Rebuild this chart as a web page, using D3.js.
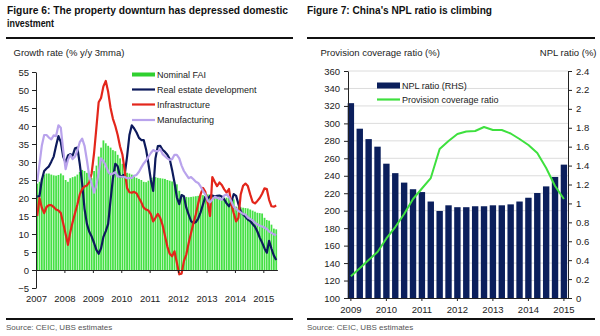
<!DOCTYPE html>
<html>
<head>
<meta charset="utf-8">
<script src="https://cdn.jsdelivr.net/npm/d3@7"></script>
<style>
    body { margin: 0; background: #fff; }
    svg { font-family: "Liberation Sans", Arial, sans-serif; }
    .title { font-weight: bold; font-size: 11.5px; fill: #111; }
    .axis-title { font-size: 9.5px; fill: #222; }
    .source { font-size: 8px; fill: #555; }
    .legend { font-size: 9px; fill: #222; }
    .tick text { font-size: 9.5px; fill: #222; }
    .domain, .tick line { stroke: #222; }
    .rule { stroke: #111; stroke-width: 2; }
    .grid { stroke: #dcdcdc; stroke-width: 1; }
</style>
</head>
<body>
<div id="chart"></div>
<script>
// Figure 6: monthly growth, Jan 2007 - Jun 2015 (% y/y 3mma)
const faiStart = new Date(2007, 0, 1);

const nominalFai = [
    24, 24.5, 25.5, 26.5, 26.8, 26.8, 26.5, 26.3, 26.2, 26.4, 26.8, 26.3,
    25, 24.5, 25.5, 25.8, 26, 26.5, 27.2, 27.8, 27.5, 27, 26, 25.5,
    27.5, 29, 31.5, 34, 36, 35.2, 34.5, 34, 33.3, 33, 32, 31,
    29.5, 27.8, 27, 26.8, 26.5, 26, 25.6, 25.3, 25, 24.5, 24.4, 24.8,
    25.5, 25.7, 25.8, 25.6, 25.5, 25.4, 25.3, 25, 24.8, 24.6, 24.3, 23.8,
    22, 21, 20.5, 20.3, 20.2, 20.3, 20.4, 20.5, 20.6, 20.7, 20.8, 20.6,
    21, 21, 20.8, 20.6, 20.3, 20.2, 20.2, 20.1, 20.1, 20, 19.8, 19.6,
    17.6, 17.6, 17.4, 17.3, 17.2, 17.1, 16.8, 16.5, 16.2, 15.9, 15.8, 15.7,
    14.5, 13.9, 13.7, 12.6, 11.5, 11.3
];

const realEstate = [
    20.4, 20.5, 25, 27.5, 28.2, 28.8, 30.1, 31.5, 34.5, 37.2, 35.5, 31.5,
    29.8, 31.8, 32.2, 31.8, 33.8, 34, 29.5, 24, 17, 12.8, 10.6, 9.3,
    7.5, 5.6, 4.5, 6, 9.2, 10.8, 12.8, 19.5, 25.5, 29.5, 28.8, 25.9,
    26.2, 26.6, 31.5, 37.5, 40.2, 39.3, 38.2, 36.7, 36.1, 36.1, 33.5, 29.5,
    25, 22, 31, 34.4, 34.5, 33.4, 32.8, 32, 30.8, 27.8, 24.3, 20.2,
    18.3, 20.8, 20.5, 17.3, 15.4, 13.6, 13, 13.3, 14.3, 16, 18.2, 20.3,
    19.8, 20.6, 20.7, 20.4, 20.6, 20.7, 20.4, 19.6, 18.5, 17.7, 18.8, 21.1,
    20.6, 18.3, 16.3, 15.4, 14.8, 14, 13.6, 12.8, 12, 10.7, 9, 7.6,
    6, 4.8, 8.1, 5.9, 4, 2.8
];

const infrastructure = [
    15, 20, 17.3, 15.8, 17.5, 18, 18, 17.5, 16.8, 16.5, 15.8, 13,
    10, 7, 10.5, 13.3, 15.8, 18.2, 21, 22.5, 23.2, 23.5, 24.4, 26.9,
    32.5, 39.5, 46.6, 47.8, 51, 52.5, 49.5, 45, 42, 40, 37.5, 34.3,
    32, 27.5, 22.8, 21.6, 21.5, 21.7, 21.3, 20, 18.8, 17.3, 16.8, 16.5,
    15.5, 13.5, 14.5, 15.6, 14.5, 12.5, 9.5, 6.5, 4.5, 3.8, 5.2, 2,
    -1.2, -1, 2.5, 4.3, 7.5, 10.3, 13, 15.5, 18.5, 21, 22.8, 21.7,
    18.5, 15, 25.8, 24.5, 23.3, 24.3, 23.6, 22.4, 21.5, 22.5, 18.3, 15.8,
    13.5, 14.5, 21, 23.4, 24, 23.3, 21, 18.9, 18.5, 19.2, 20, 21.2,
    22.7, 22.5, 19.5, 17.7, 17.6, 17.9
];

const manufacturing = [
    24.5, 29.5, 34.5, 37.5, 37.5, 36.8, 36.3, 37.4, 37.2, 40.2, 39.5, 33.3,
    28, 30.6, 32, 30.8, 31.5, 33.2, 35.5, 36.5, 34.5, 30.5, 26, 24,
    21.5, 23.5, 27, 31, 30.3, 29, 27.3, 26.5, 26.8, 27.2, 26, 25.9,
    25.9, 25.8, 25.5, 25.5, 25.6, 26.2, 26.4, 27.3, 28.5, 29.6, 30.4, 31.5,
    32.5, 33.3, 33, 33, 33.6, 32.2, 31.6, 31, 30.6, 30.8, 32, 32,
    31, 29, 27.5, 26.5, 25.5, 25.8, 25.2, 24.5, 24.2, 23.2, 22, 21,
    19.3, 18.8, 19.6, 20.3, 20.1, 19.8, 19.5, 20.7, 21, 20.3, 19, 17.6,
    17, 16.4, 16, 15.6, 15.4, 14.6, 14.2, 13.8, 13.1, 12.7, 12.3, 12.1,
    11.8, 11.4, 10.7, 10.3, 9.9, 9.7
];

const growthTicks = [-5, 0, 5, 10, 15, 20, 25, 30, 35, 40, 45, 50, 55];
const yearTicks = [2007, 2008, 2009, 2010, 2011, 2012, 2013, 2014, 2015];

// Figure 7: quarterly bank data, 2009Q1 - 2015Q1
const quarters = [
    "2009Q1", "2009Q2", "2009Q3", "2009Q4",
    "2010Q1", "2010Q2", "2010Q3", "2010Q4",
    "2011Q1", "2011Q2", "2011Q3", "2011Q4",
    "2012Q1", "2012Q2", "2012Q3", "2012Q4",
    "2013Q1", "2013Q2", "2013Q3", "2013Q4",
    "2014Q1", "2014Q2", "2014Q3", "2014Q4",
    "2015Q1"
];
const nplRatio = [
    2.06, 1.79, 1.68, 1.60, 1.42, 1.32, 1.22, 1.15, 1.12, 1.02, 0.92, 0.98,
    0.96, 0.96, 0.97, 0.97, 0.98, 0.98, 0.99, 1.02, 1.06, 1.11, 1.18, 1.28, 1.41
];
const provisionCoverage = [
    125, 134, 143.5, 152.7, 168.2, 181.3, 196.2, 213.4, 225.4, 237.4, 270.7, 279.8,
    287.8, 290.7, 291.3, 295.9, 292.4, 292.4, 288.4, 282.1, 275.2, 266, 248.9, 228.3, 213.4
];
const coverageTicks = [100, 120, 140, 160, 180, 200, 220, 240, 260, 280, 300, 320, 340, 360];
const nplTicks = [0, 0.2, 0.4, 0.6, 0.8, 1, 1.2, 1.4, 1.6, 1.8, 2, 2.2, 2.4];

const colors = {
    fai: "#45e045",
    faiKey: "#2fd02f",
    realEstate: "#0d1a5c",
    infrastructure: "#e3261b",
    manufacturing: "#b9a3ec",
    npl: "#0b1f5c",
    coverage: "#3ee03e"
};

const svg = d3.select("#chart")
    .append("svg")
    .attr("width", 600)
    .attr("height", 336);

const addRule = (x1, x2, y) => {
    svg.append("line")
        .attr("x1", x1)
        .attr("x2", x2)
        .attr("y1", y)
        .attr("y2", y)
        .attr("class", "rule");
};

const addText = (x, y, text, cls, anchor = "start") => svg.append("text")
    .attr("x", x)
    .attr("y", y)
    .attr("class", cls)
    .attr("text-anchor", anchor)
    .text(text);

const addKeyLine = (x, y, color, width, label) => {
    svg.append("line")
        .attr("x1", x)
        .attr("x2", x + 23)
        .attr("y1", y)
        .attr("y2", y)
        .attr("stroke", color)
        .attr("stroke-width", width);
    addText(x + 25, y + 3.2, label, "legend");
};

// ---------- Figure 6 ----------
addText(7, 14, "Figure 6: The property downturn has depressed domestic", "title")
    .attr("textLength", 281)
    .attr("lengthAdjust", "spacingAndGlyphs");
addText(7, 27, "investment", "title")
    .attr("textLength", 47)
    .attr("lengthAdjust", "spacingAndGlyphs");
addRule(6, 293, 38);
addText(13.5, 55.5, "Growth rate (% y/y 3mma)", "axis-title");

const x1 = d3.scaleTime()
    .domain([faiStart, d3.timeMonth.offset(faiStart, nominalFai.length)])
    .range([36, 277.4]);
const y1 = d3.scaleLinear()
    .domain([-5, 55])
    .range([288, 72]);

const months = nominalFai.map((_, i) => d3.timeMonth.offset(faiStart, i));
const midMonth = i => (x1(months[i]) + x1(d3.timeMonth.offset(months[i], 1))) / 2;

svg.append("g")
    .selectAll("rect")
    .data(nominalFai)
    .join("rect")
    .attr("x", (d, i) => x1(months[i]) + 0.3)
    .attr("width", (d, i) => x1(d3.timeMonth.offset(months[i], 1)) - x1(months[i]) - 0.6)
    .attr("y", d => y1(Math.max(d, 0)))
    .attr("height", d => Math.abs(y1(d) - y1(0)))
    .attr("fill", colors.fai);

const growthLine = d3.line()
    .x((d, i) => midMonth(i))
    .y(d => y1(d));

[
    [realEstate, colors.realEstate],
    [infrastructure, colors.infrastructure],
    [manufacturing, colors.manufacturing]
].forEach(([values, color]) => {
    svg.append("path")
        .datum(values)
        .attr("d", growthLine)
        .attr("fill", "none")
        .attr("stroke", color)
        .attr("stroke-width", 2.2)
        .attr("stroke-linejoin", "round");
});

const yearDates = yearTicks.map(y => new Date(y, 0, 1));

svg.append("g")
    .attr("transform", "translate(36,0)")
    .call(d3.axisLeft(y1).tickValues(growthTicks).tickSize(4).tickSizeOuter(0).tickPadding(3));

svg.append("g")
    .attr("transform", `translate(0,${y1(0)})`)
    .call(d3.axisBottom(x1).tickValues(yearDates).tickFormat("").tickSize(3).tickSizeOuter(0));

svg.append("g")
    .attr("transform", `translate(0,${y1(-5)})`)
    .call(d3.axisBottom(x1).tickValues(yearDates).tickFormat(d3.timeFormat("%Y")).tickSize(0).tickPadding(7))
    .call(g => g.select(".domain").remove());

svg.append("rect")
    .attr("x", 132)
    .attr("y", 72.5)
    .attr("width", 23)
    .attr("height", 4)
    .attr("fill", colors.faiKey);
addText(157, 78, "Nominal FAI", "legend");
addKeyLine(132, 89.5, colors.realEstate, 2.2, "Real estate development");
addKeyLine(132, 104.5, colors.infrastructure, 2.2, "Infrastructure");
addKeyLine(132, 120, colors.manufacturing, 2.2, "Manufacturing");

addRule(6, 293, 319);
addText(6, 330, "Source:  CEIC, UBS estimates", "source");

// ---------- Figure 7 ----------
addText(307, 14, "Figure 7: China's NPL ratio is climbing", "title")
    .attr("textLength", 185)
    .attr("lengthAdjust", "spacingAndGlyphs");
addRule(307, 595, 38);
addText(320.5, 55.5, "Provision coverage ratio (%)", "axis-title");
addText(596.5, 55.5, "NPL ratio (%)", "axis-title", "end");

const x2 = d3.scaleBand()
    .domain(quarters)
    .range([346.8, 568])
    .paddingInner(0.28)
    .paddingOuter(0.1);
const yL = d3.scaleLinear()
    .domain([100, 360])
    .range([298, 71]);
const yR = d3.scaleLinear()
    .domain([0, 2.4])
    .range([298, 71]);

coverageTicks.slice(1).forEach(t => {
    svg.append("line")
        .attr("x1", 348)
        .attr("x2", 568)
        .attr("y1", yL(t))
        .attr("y2", yL(t))
        .attr("class", "grid");
});

svg.append("g")
    .selectAll("rect")
    .data(nplRatio)
    .join("rect")
    .attr("x", (d, i) => x2(quarters[i]))
    .attr("width", x2.bandwidth())
    .attr("y", d => yR(d))
    .attr("height", d => yR(0) - yR(d))
    .attr("fill", colors.npl);

svg.append("path")
    .datum(provisionCoverage)
    .attr("d", d3.line()
        .x((d, i) => x2(quarters[i]) + x2.bandwidth() / 2)
        .y(d => yL(d)))
    .attr("fill", "none")
    .attr("stroke", colors.coverage)
    .attr("stroke-width", 2)
    .attr("stroke-linejoin", "round");

svg.append("g")
    .attr("transform", "translate(348,0)")
    .call(d3.axisLeft(yL).tickValues(coverageTicks).tickSize(4).tickSizeOuter(0).tickPadding(4));

svg.append("g")
    .attr("transform", "translate(568,0)")
    .call(d3.axisRight(yR).tickValues(nplTicks).tickFormat(d => String(+d.toFixed(1))).tickSize(4).tickSizeOuter(0).tickPadding(4));

svg.append("g")
    .attr("transform", `translate(0,${yR(0)})`)
    .call(d3.axisBottom(x2)
        .tickValues(quarters.filter(q => q.endsWith("Q1")))
        .tickFormat(q => q.slice(0, 4))
        .tickSize(3)
        .tickSizeOuter(0)
        .tickPadding(5));

svg.append("rect")
    .attr("x", 377)
    .attr("y", 82.5)
    .attr("width", 23)
    .attr("height", 6)
    .attr("fill", colors.npl);
addText(402, 89, "NPL ratio (RHS)", "legend");
addKeyLine(377, 99.5, colors.coverage, 2.2, "Provision coverage ratio");
svg.selectAll(".legend").filter(function () { return this.textContent === "Provision coverage ratio"; })
    .attr("x", 402);

addRule(307, 595, 319);
addText(307, 330, "Source:  CEIC, UBS estimates", "source");
</script>
</body>
</html>
